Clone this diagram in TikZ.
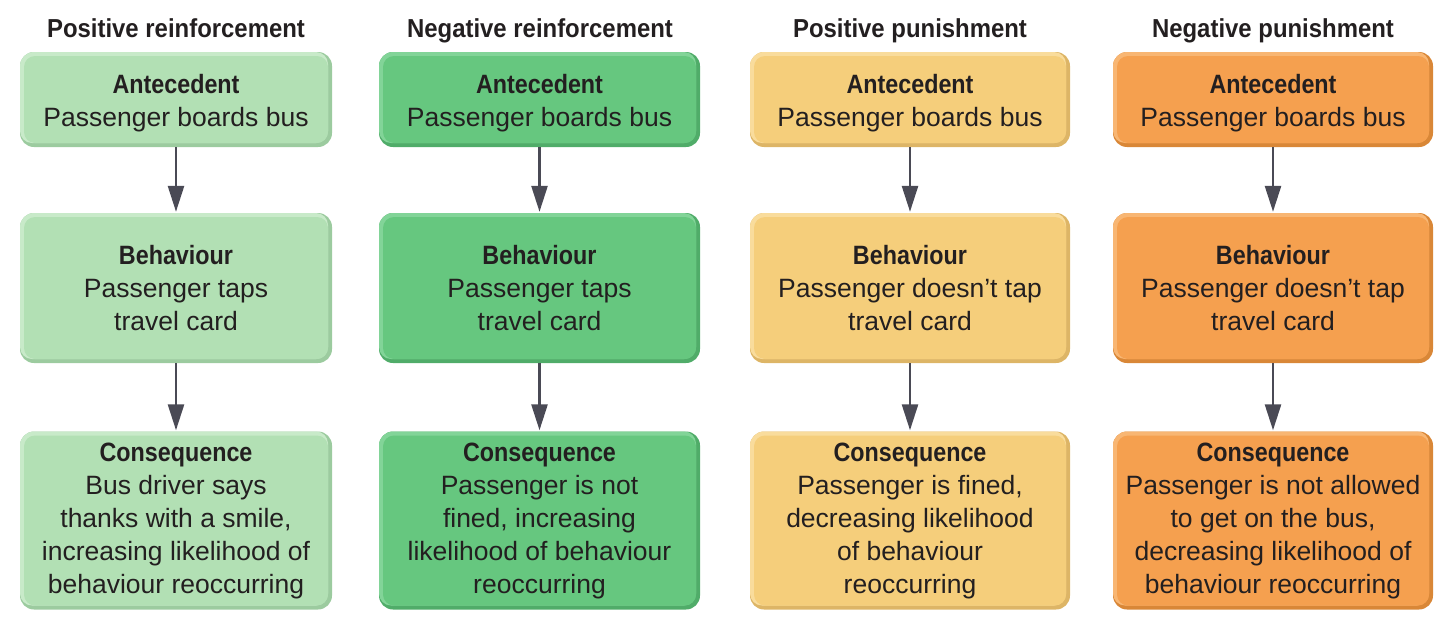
\documentclass[tikz,border=0pt]{standalone}
\usepackage{fontspec}
\setmainfont{Liberation Sans}
\newfontfamily\headfont[FakeStretch=0.88]{Liberation Sans}
\newfontfamily\titlefont[FakeStretch=0.92]{Liberation Sans}
\usetikzlibrary{arrows.meta}
\definecolor{inkgrey}{HTML}{231F20}
\definecolor{arrowgrey}{HTML}{4A4A55}
\definecolor{lgreen}{HTML}{B2E0B4}
\definecolor{lgreenlt}{HTML}{C8EAC9}
\definecolor{lgreendk}{HTML}{9CCB9F}
\definecolor{dgreen}{HTML}{66C77F}
\definecolor{dgreenlt}{HTML}{82D498}
\definecolor{dgreendk}{HTML}{50AC69}
\definecolor{ybox}{HTML}{F5CE7B}
\definecolor{yboxlt}{HTML}{F9DC9C}
\definecolor{yboxdk}{HTML}{DDB566}
\definecolor{obox}{HTML}{F5A04F}
\definecolor{oboxlt}{HTML}{F8B673}
\definecolor{oboxdk}{HTML}{D98737}
\tikzset{
  stage/.style={rounded corners=14pt, fill=#1dk, text=inkgrey, align=center,
    inner sep=0pt, font=\fontsize{26.5}{33}\selectfont,
    path picture={
      \fill[#1lt, rounded corners=12pt]
        ([yshift=4pt]path picture bounding box.south west) rectangle
        ([xshift=-4pt]path picture bounding box.north east);
      \fill[#1, rounded corners=11pt]
        ([xshift=4pt,yshift=4pt]path picture bounding box.south west) rectangle
        ([xshift=-4pt,yshift=-4pt]path picture bounding box.north east);
    }},
  heading/.style={font=\fontsize{26}{33}\titlefont\bfseries, text=inkgrey, anchor=base},
  flow/.style={draw=arrowgrey, line width=2.6pt, -{Triangle[length=26pt,width=16pt]}, shorten >=1pt}
}
\newcommand{\hd}[1]{{\headfont\bfseries #1}}
\newcommand{\antehd}{\hd{\rule{0pt}{27pt}Antecedent}}

\begin{document}
\begin{tikzpicture}[x=1pt,y=-1pt]
\useasboundingbox (0,0) rectangle (1438,616);
% column 1: positive reinforcement
\node[heading] (title1) at (176,37) {Positive reinforcement};
\node[stage=lgreen, minimum width=312pt, minimum height=95pt] (ante1) at (176,99.5)
  {\antehd\\Passenger boards bus};
\node[stage=lgreen, minimum width=312pt, minimum height=150pt] (beh1) at (176,288)
  {\hd{Behaviour}\\Passenger taps\\travel card};
\node[stage=lgreen, minimum width=312pt, minimum height=178pt] (cons1) at (176,520.5)
  {\hd{Consequence}\\Bus driver says\\thanks with a smile,\\increasing likelihood of\\behaviour reoccurring};
\draw[flow] (ante1) -- (beh1);
\draw[flow] (beh1) -- (cons1);
% column 2: negative reinforcement
\node[heading] (title2) at (540,37) {Negative reinforcement};
\node[stage=dgreen, minimum width=321pt, minimum height=95pt] (ante2) at (539.5,99.5)
  {\antehd\\Passenger boards bus};
\node[stage=dgreen, minimum width=321pt, minimum height=150pt] (beh2) at (539.5,288)
  {\hd{Behaviour}\\Passenger taps\\travel card};
\node[stage=dgreen, minimum width=321pt, minimum height=178pt] (cons2) at (539.5,520.5)
  {\hd{Consequence}\\Passenger is not\\fined, increasing\\likelihood of behaviour\\reoccurring};
\draw[flow] (ante2) -- (beh2);
\draw[flow] (beh2) -- (cons2);
% column 3: positive punishment
\node[heading] (title3) at (910,37) {Positive punishment};
\node[stage=ybox, minimum width=320pt, minimum height=95pt] (ante3) at (910,99.5)
  {\antehd\\Passenger boards bus};
\node[stage=ybox, minimum width=320pt, minimum height=150pt] (beh3) at (910,288)
  {\hd{Behaviour}\\Passenger doesn’t tap\\travel card};
\node[stage=ybox, minimum width=320pt, minimum height=178pt] (cons3) at (910,520.5)
  {\hd{Consequence}\\Passenger is fined,\\decreasing likelihood\\of behaviour\\reoccurring};
\draw[flow] (ante3) -- (beh3);
\draw[flow] (beh3) -- (cons3);
% column 4: negative punishment
\node[heading] (title4) at (1273,37) {Negative punishment};
\node[stage=obox, minimum width=320pt, minimum height=95pt] (ante4) at (1273,99.5)
  {\antehd\\Passenger boards bus};
\node[stage=obox, minimum width=320pt, minimum height=150pt] (beh4) at (1273,288)
  {\hd{Behaviour}\\Passenger doesn’t tap\\travel card};
\node[stage=obox, minimum width=320pt, minimum height=178pt] (cons4) at (1273,520.5)
  {\hd{Consequence}\\Passenger is not allowed\\to get on the bus,\\decreasing likelihood of\\behaviour reoccurring};
\draw[flow] (ante4) -- (beh4);
\draw[flow] (beh4) -- (cons4);
\end{tikzpicture}
\end{document}
